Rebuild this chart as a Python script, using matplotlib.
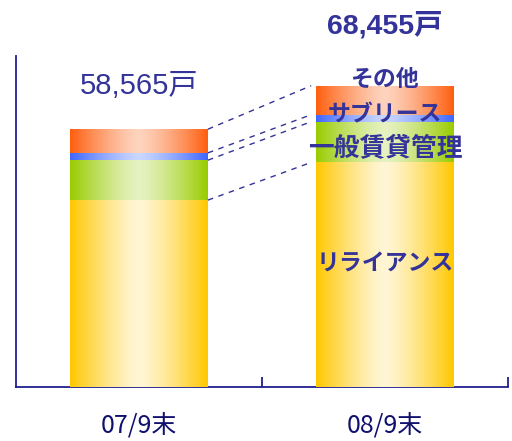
import matplotlib.pyplot as plt
import numpy as np
from matplotlib.colors import LinearSegmentedColormap

plt.rcParams['font.family'] = ['Noto Sans CJK JP', 'DejaVu Sans']

periods = ['07/9末', '08/9末']
segments = ['リライアンス', '一般賃貸管理', 'サブリース', 'その他']
reliance = [42460, 51025]
general = [9070, 9250]
sublease = [1660, 1590]
other = [5375, 6590]
totals = ['58,565戸', '68,455戸']

# edge colour / centre colour of each stacked segment
shades = [('#FFC800', '#FFF6D6'),
          ('#99CC00', '#E6F2C2'),
          ('#3F66FF', '#C9D7FF'),
          ('#FF5F0F', '#FDD4BE')]

navy = '#333399'
axis_col = '#1F1F8F'

fig = plt.figure(figsize=(5.12, 4.41), dpi=100)
ax = fig.add_axes([16/512, 54/441, 492/512, 331/441])

x = np.arange(len(periods))
width = 0.56
ramp = np.abs(np.linspace(-1, 1, 256)) ** 1.3
grad = np.tile(ramp, (2, 1))

bottom = np.zeros(len(periods))
tops = []
for vals, (edge, centre) in zip([reliance, general, sublease, other], shades):
    bars = ax.bar(x, vals, width, bottom=bottom, color=edge, linewidth=0, zorder=2)
    cmap = LinearSegmentedColormap.from_list('seg', [centre, edge])
    for b in bars:
        x0, y0 = b.get_x(), b.get_y()
        im = ax.imshow(grad, cmap=cmap, aspect='auto', interpolation='bilinear',
                       extent=[x0, x0 + b.get_width(), y0, y0 + b.get_height()],
                       zorder=3)
        im.set_clip_path(b)
    bottom = bottom + np.array(vals)
    tops.append(bottom.copy())

# dashed guides between the segment boundaries of the two bars
for level in tops:
    ax.plot([x[0] + width / 2, x[1] - width / 2 - 0.02], [level[0], level[1]],
            ls=(0, (4, 4)), color=navy, lw=1.0, zorder=4)

ax.set_xlim(-0.5, 1.5)
ax.set_ylim(0, 75200)

for s in ['top', 'right']:
    ax.spines[s].set_visible(False)
for s in ['left', 'bottom']:
    ax.spines[s].set_color(axis_col)
    ax.spines[s].set_linewidth(1.3)
ax.set_yticks([])
ax.set_xticks(x)
ax.set_xticklabels(periods, fontsize=18, color='#10106E')
ax.tick_params(axis='x', length=0, pad=19)
ax.set_xticks([0.5, 1.5], minor=True)
ax.tick_params(axis='x', which='minor', direction='in', length=7,
               width=1.3, color=axis_col)

ax.text(x[0], 58565 + 9900, totals[0], ha='center', va='center',
        fontsize=21, color=navy, family=['Liberation Sans', 'Noto Sans CJK JP'])
ax.text(x[1], 68455 + 13700, totals[1], ha='center', va='center',
        fontsize=20.5, color=navy, fontweight='bold',
        family=['Liberation Sans', 'Noto Sans CJK JP'])

lab_y = [(387 - 263) * 227.2, (387 - 148) * 227.2,
         (387 - 115) * 227.2, (387 - 79) * 227.2]
lab_size = [16.5, 18.5, 16.5, 16.5]
for name, yy, fs in zip(segments, lab_y, lab_size):
    ax.text(x[1], yy, name, ha='center', va='center', fontsize=fs,
            fontweight='bold', color=navy, zorder=5)

fig.savefig('out.png', dpi=100)
